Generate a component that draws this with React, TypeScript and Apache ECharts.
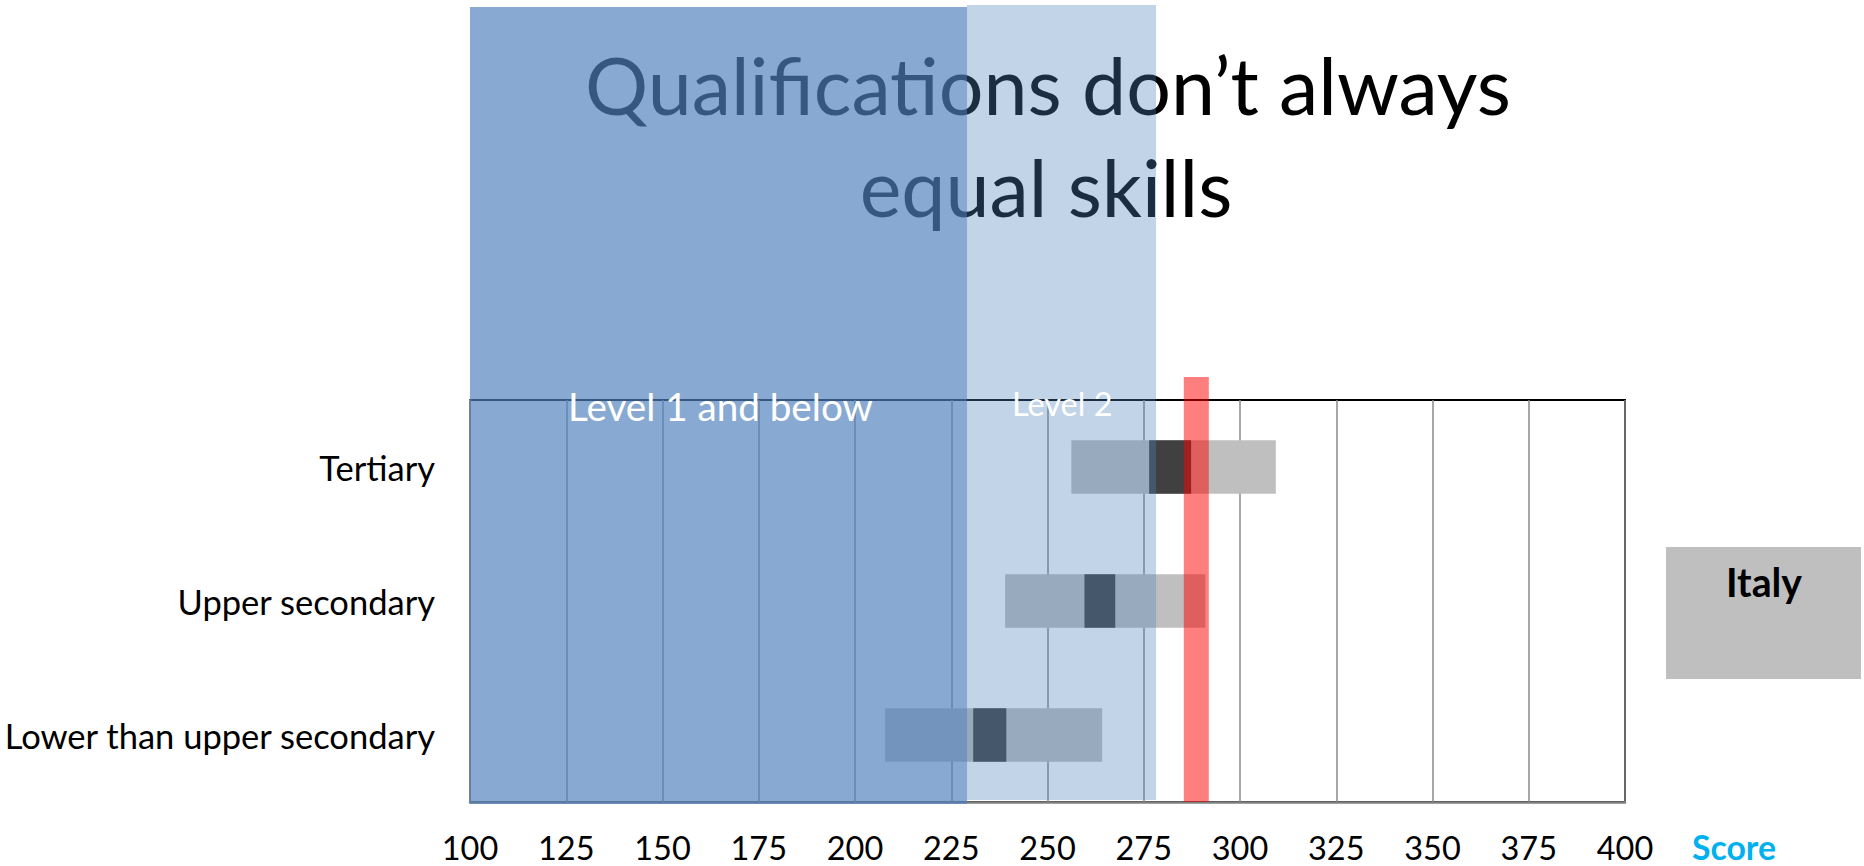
import React, { useEffect, useRef } from 'react';
import * as echarts from 'echarts';

// ---- data ----
const categories = ['Lower than upper secondary', 'Upper secondary', 'Tertiary'];
const rangeLow = [207.8, 239.0, 256.2];
const rangeHigh = [264.2, 291.0, 309.3];
const innerLow = [230.7, 259.6, 276.4];
const innerHigh = [239.3, 267.6, 287.3];
const bandNames = ['Level 1 and below', 'Level 2'];
const bandFrom = [100, 229.1];
const bandTo = [229.1, 278.2];
const markerFrom = [285.4];
const markerTo = [291.9];
const xMin = 100;
const xMax = 400;
const xStep = 25;
const titleLines = ['Qualifications don\u2019t always', 'equal skills'];
const countryName = 'Italy';
const axisName = 'Score';

const FONT = 'Lato';
const CENTRAL = 0.387; // central baseline offset (em) for Lato

function fit(text: string, target: number, weight = 'normal'): number {
  const ctx = document.createElement('canvas').getContext('2d')!;
  ctx.font = `${weight} 100px ${FONT}`;
  const w = ctx.measureText(text).width;
  return (100 * target) / w;
}

export default function App() {
  const ref = useRef<HTMLDivElement>(null);
  useEffect(() => {
    const chart = echarts.init(ref.current!, null, { renderer: 'svg' });

    const gridLeft = 470;
    const gridTop = 400;
    const gridWidth = 1155;
    const gridHeight = 402;

    const sTitle = fit(titleLines[0], 926);
    const sY = fit(categories[0], 432);
    const sX = fit('100', 56.5);
    const sL1 = fit(bandNames[0], 305);
    const sL2 = fit(bandNames[1], 100.6);
    const sItaly = fit(countryName, 76, 'bold');
    const sScore = fit(axisName, 84, 'bold');

    const xLabelBaseline = 860;

    const rangeData = categories.map((_, i) => [rangeLow[i], rangeHigh[i], i]);
    const innerData = categories.map((_, i) => [innerLow[i], innerHigh[i], i]);
    const bandData = bandNames.map((_, i) => [bandFrom[i], bandTo[i], i]);
    const markerData = markerFrom.map((v, i) => [v, markerTo[i]]);

    const barItem = (color: string) => (params: any, api: any) => {
      const lo = api.coord([api.value(0), api.value(2)]);
      const hi = api.coord([api.value(1), api.value(2)]);
      const h = api.size([0, 1])[1] * 0.4;
      return {
        type: 'rect',
        shape: { x: lo[0], y: lo[1] - h / 2, width: hi[0] - lo[0], height: h },
        style: { fill: color },
      };
    };

    const bandTops = [7, 5];
    const bandBottoms = [804, 800];
    const bandColors = ['rgba(79,129,189,0.68)', 'rgba(79,129,189,0.345)'];

    const option: any = {
      animation: false,
      backgroundColor: '#ffffff',
      grid: {
        left: gridLeft,
        top: gridTop,
        width: gridWidth,
        height: gridHeight,
        show: true,
        borderColor: '#000000',
        borderWidth: 2,
        backgroundColor: 'transparent',
      },
      xAxis: {
        type: 'value',
        min: xMin,
        max: xMax,
        interval: xStep,
        axisLine: { show: true, onZero: false, lineStyle: { color: '#808080', width: 2.5 } },
        axisTick: { show: false },
        splitLine: { show: true, lineStyle: { color: '#8a8a8a', width: 1.5 } },
        axisLabel: {
          color: '#000000',
          fontFamily: FONT,
          fontSize: sX,
          lineHeight: sX,
          verticalAlign: 'middle',
          margin: xLabelBaseline - CENTRAL * sX - (gridTop + gridHeight),
        },
      },
      yAxis: {
        type: 'category',
        data: categories,
        axisLine: { show: true, lineStyle: { color: '#808080', width: 2 } },
        axisTick: { show: false },
        splitLine: { show: false },
        axisLabel: {
          color: '#000000',
          fontFamily: FONT,
          fontSize: sY,
          margin: 35,
        },
      },
      series: [
        {
          type: 'custom',
          name: 'range',
          z: 2,
          clip: false,
          renderItem: barItem('#BFBFBF'),
          encode: { x: [0, 1], y: 2 },
          data: rangeData,
        },
        {
          type: 'custom',
          name: 'inner',
          z: 2,
          clip: false,
          renderItem: barItem('#404040'),
          encode: { x: [0, 1], y: 2 },
          data: innerData,
        },
        {
          type: 'custom',
          name: 'levels',
          z: 3,
          clip: false,
          renderItem: (params: any, api: any) => {
            const idx = api.value(2);
            const a = api.coord([api.value(0), 0]);
            const b = api.coord([api.value(1), 0]);
            const top = bandTops[idx];
            const bottom = bandBottoms[idx];
            return {
              type: 'rect',
              shape: { x: a[0], y: top, width: b[0] - a[0], height: bottom - top },
              style: { fill: bandColors[idx] },
            };
          },
          encode: { x: [0, 1] },
          data: bandData,
        },
        {
          type: 'custom',
          name: 'marker',
          z: 4,
          clip: false,
          renderItem: (params: any, api: any) => {
            const a = api.coord([api.value(0), 0]);
            const b = api.coord([api.value(1), 0]);
            const cs = params.coordSys;
            const top = cs.y - 23;
            const bottom = cs.y + cs.height;
            return {
              type: 'rect',
              shape: { x: a[0], y: top, width: b[0] - a[0], height: bottom - top },
              style: { fill: 'rgba(255,0,0,0.5)' },
            };
          },
          encode: { x: [0, 1] },
          data: markerData,
        },
      ],
      graphic: [
        {
          type: 'text',
          z: 0,
          x: 1048,
          y: 115 - CENTRAL * sTitle,
          style: {
            text: titleLines[0],
            fontFamily: FONT,
            fontSize: sTitle,
            fill: '#000000',
            textAlign: 'center',
            textVerticalAlign: 'middle',
          },
        },
        {
          type: 'text',
          z: 0,
          x: 1046,
          y: 216.7 - CENTRAL * sTitle,
          style: {
            text: titleLines[1],
            fontFamily: FONT,
            fontSize: sTitle,
            fill: '#000000',
            textAlign: 'center',
            textVerticalAlign: 'middle',
          },
        },
        {
          type: 'text',
          z: 10,
          x: 568,
          y: 421 - CENTRAL * sL1,
          style: {
            text: bandNames[0],
            fontFamily: FONT,
            fontSize: sL1,
            fill: '#ffffff',
            textAlign: 'left',
            textVerticalAlign: 'middle',
          },
        },
        {
          type: 'text',
          z: 10,
          x: 1012,
          y: 416 - CENTRAL * sL2,
          style: {
            text: bandNames[1],
            fontFamily: FONT,
            fontSize: sL2,
            fill: '#ffffff',
            textAlign: 'left',
            textVerticalAlign: 'middle',
          },
        },
        {
          type: 'rect',
          z: 1,
          shape: { x: 1666, y: 547, width: 195, height: 132 },
          style: { fill: '#BFBFBF' },
        },
        {
          type: 'text',
          z: 10,
          x: 1764,
          y: 596.7 - CENTRAL * sItaly,
          style: {
            text: countryName,
            fontFamily: FONT,
            fontWeight: 'bold',
            fontSize: sItaly,
            fill: '#000000',
            textAlign: 'center',
            textVerticalAlign: 'middle',
          },
        },
        {
          type: 'text',
          z: 10,
          x: 1734,
          y: xLabelBaseline - CENTRAL * sScore,
          style: {
            text: axisName,
            fontFamily: FONT,
            fontWeight: 'bold',
            fontSize: sScore,
            lineHeight: sScore,
            fill: '#00B0F0',
            textAlign: 'center',
            textVerticalAlign: 'middle',
          },
        },
      ],
    };

    chart.setOption(option);
    return () => chart.dispose();
  }, []);

  return (
    <div
      ref={ref}
      style={{ position: 'fixed', left: 0, top: 0, width: 1864, height: 866, background: '#fff' }}
    />
  );
}
